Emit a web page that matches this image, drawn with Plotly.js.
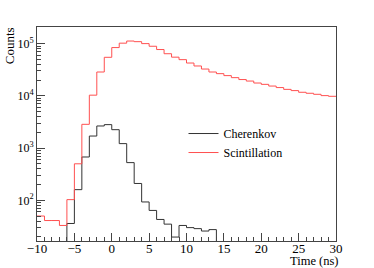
<!DOCTYPE html>
<html>
<head>
<meta charset="utf-8">
<script src="https://cdn.plot.ly/plotly-3.0.1.min.js"></script>
<style>html,body{margin:0;padding:0;background:#fff;}#chart{width:374px;height:268px;}</style>
</head>
<body>
<div id="chart"></div>
<script>
// Bin lower edges (ns), 1 ns wide bins from -10 to 30
var binEdges = [-10,-9,-8,-7,-6,-5,-4,-3,-2,-1,0,1,2,3,4,5,6,7,8,9,10,11,12,13,14,15,16,17,18,19,20,21,22,23,24,25,26,27,28,29,30];
var scintillation = [50,41,41,33,103,500,2850,10300,28600,54700,84000,102000,112000,109000,100000,89000,77000,64000,55000,49300,42500,37300,32600,28600,26600,24400,22300,20500,19200,17600,16600,15400,14400,13300,12600,11700,11200,10700,10100,9800];
var cherenkov = [0,0,0,0,36,160,675,1700,2650,2810,2250,1217,527,210,93,64,43,35,19.8,33,30,28.7,25.8,27.5,0,0,0,0,0,0,0,0,0,0,0,0,0,0,0,0];
var yTickVals = [100,1000,10000,100000];
var yTickText = ['10<sup>2</sup>','10<sup>3</sup>','10<sup>4</sup>','10<sup>5</sup>'];
var yMinorVals = [20,30,40,50,60,70,80,90,200,300,400,500,600,700,800,900,2000,3000,4000,5000,6000,7000,8000,9000,20000,30000,40000,50000,60000,70000,80000,90000,200000];
var xTickVals = [-10,-5,0,5,10,15,20,25,30];

function histXY(vals){
  var xs = [], ys = [];
  for (var i=0;i<vals.length;i++){
    xs.push(binEdges[i]);
    ys.push(vals[i] > 0 ? vals[i] : 1e-3);
  }
  xs.push(binEdges[vals.length]);
  ys.push(vals[vals.length-1] > 0 ? vals[vals.length-1] : 1e-3);
  return {x:xs, y:ys};
}
var c = histXY(cherenkov), s = histXY(scintillation);
var font = 'Liberation Serif';
var traces = [
  {x:c.x, y:c.y, type:'scatter', mode:'lines', name:'Cherenkov', line:{shape:'hv', color:'#333333', width:1}},
  {x:s.x, y:s.y, type:'scatter', mode:'lines', name:'Scintillation', line:{shape:'hv', color:'#ff5050', width:1}}
];
var layout = {
  width:374, height:268,
  margin:{l:37, r:38, t:27, b:27},
  paper_bgcolor:'#fff', plot_bgcolor:'#fff',
  font:{family:font, size:12, color:'#000'},
  showlegend:true,
  legend:{x:0.49, y:0.57, xanchor:'left', yanchor:'top', bgcolor:'rgba(0,0,0,0)', borderwidth:0, font:{family:font, size:12, color:'#000'}, tracegroupgap:0},
  xaxis:{range:[-10,30], tickvals:xTickVals, ticks:'inside', ticklen:8, tickcolor:'#444', tickwidth:1,
    showline:true, linecolor:'#444', linewidth:1, mirror:true, showgrid:false, zeroline:false,
    ticklabelstandoff:-5,
    minor:{dtick:1, ticks:'inside', ticklen:4, tickcolor:'#444', showgrid:false},
    tickfont:{family:font, size:13, color:'#000'}},
  yaxis:{type:'log', range:[1.221, 5.318], tickvals:yTickVals, ticktext:yTickText, ticks:'inside', ticklen:8, tickcolor:'#444', tickwidth:1,
    showline:true, linecolor:'#444', linewidth:1, mirror:true, showgrid:false, zeroline:false,
    minor:{tickmode:'array', tickvals:yMinorVals, ticks:'inside', ticklen:4, tickcolor:'#444', showgrid:false},
    tickfont:{family:font, size:12, color:'#000'}},
  annotations:[
    {text:'Counts', xref:'paper', yref:'paper', x:-0.094, y:1.01, xanchor:'center', yanchor:'top', textangle:-90, showarrow:false, font:{family:font, size:13, color:'#000'}},
    {text:'Time (ns)', xref:'paper', yref:'paper', x:1.012, y:-0.058, xanchor:'right', yanchor:'top', showarrow:false, borderpad:0, font:{family:font, size:12.5, color:'#000'}}
  ]
};
Plotly.newPlot('chart', traces, layout, {displayModeBar:false, staticPlot:true});
</script>
</body>
</html>
